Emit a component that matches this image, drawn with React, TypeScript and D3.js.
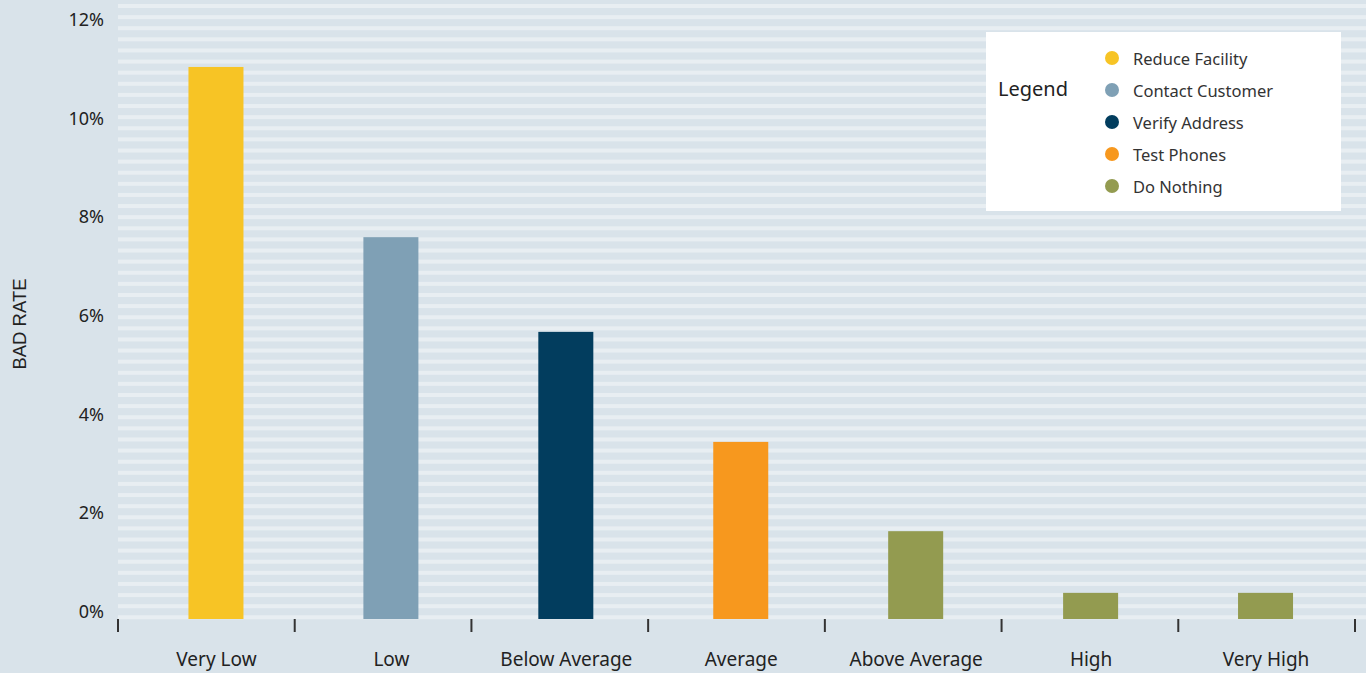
import React from "react";
import * as d3 from "d3";

const categories = ["Very Low", "Low", "Below Average", "Average", "Above Average", "High", "Very High"];
const badRate = [11.19, 7.74, 5.82, 3.59, 1.78, 0.53, 0.53];
const actions = ["Reduce Facility", "Contact Customer", "Verify Address", "Test Phones", "Do Nothing", "Do Nothing", "Do Nothing"];
const legendItems = ["Reduce Facility", "Contact Customer", "Verify Address", "Test Phones", "Do Nothing"];
const legendColors = ["#F7C425", "#7FA0B5", "#023D5E", "#F7981E", "#939B50"];
const yTicks = [0, 2, 4, 6, 8, 10, 12];

const W = 1366;
const H = 673;
const FONT = "'Noto Sans', sans-serif";

export default function App() {
  const y = d3.scaleLinear().domain([0, 12]).range([619, 27]);
  const xBar = d3.scalePoint<string>().domain(categories).range([128.5, 1353]).padding(0.5);
  const xTick = d3.scaleLinear().domain([0, categories.length]).range([118, 1355]);
  const color = d3.scaleOrdinal<string, string>().domain(legendItems).range(legendColors);
  const barW = 55;
  const stripeStep = (619.3 - 8) / 55;
  const stripes = d3.range(0, 56).map((k) => 619.3 - k * stripeStep);

  return (
    <svg width={W} height={H} style={{ position: "absolute", left: 0, top: 0, display: "block" }}>
      <rect x={0} y={0} width={W} height={H} fill="#D9E3EA" />
      {stripes.map((s, i) => (
        <rect key={i} x={118} y={s - 4} width={W - 118} height={4} fill="#E8EEF2" />
      ))}
      {categories.map((c, i) => (
        <rect
          key={c}
          x={(xBar(c) as number) - barW / 2}
          y={y(badRate[i])}
          width={barW}
          height={y(0) - y(badRate[i])}
          fill={color(actions[i])}
        />
      ))}
      {d3.range(0, categories.length + 1).map((i) => (
        <line key={i} x1={xTick(i)} x2={xTick(i)} y1={619} y2={632} stroke="#333" strokeWidth={2} />
      ))}
      {categories.map((c) => (
        <text key={c} x={(xBar(c) as number) + 0.5} y={659} textAnchor="middle" dominantBaseline="central" fontFamily={FONT} fontSize={19} fill="#222">
          {c}
        </text>
      ))}
      {yTicks.map((t) => (
        <text key={t} x={104} y={y(t) - 8} textAnchor="end" dominantBaseline="central" fontFamily={FONT} fontSize={18} fill="#222">
          {t}%
        </text>
      ))}
      <text transform="translate(19.5,324) rotate(-90)" textAnchor="middle" dominantBaseline="central" fontFamily="'Liberation Sans', Arial, sans-serif" fontSize={18.5} fill="#222">
        BAD RATE
      </text>
      <rect x={986} y={32} width={355} height={179} fill="#FFFFFF" />
      <text x={998} y={88} dominantBaseline="central" fontFamily={FONT} fontSize={20} fill="#222">Legend</text>
      {legendItems.map((l, i) => (
        <g key={l}>
          <circle cx={1112} cy={58 + i * 32} r={7} fill={legendColors[i]} />
          <text x={1133} y={58 + i * 32} dominantBaseline="central" fontFamily={FONT} fontSize={16.5} fill="#333">{l}</text>
        </g>
      ))}
    </svg>
  );
}
